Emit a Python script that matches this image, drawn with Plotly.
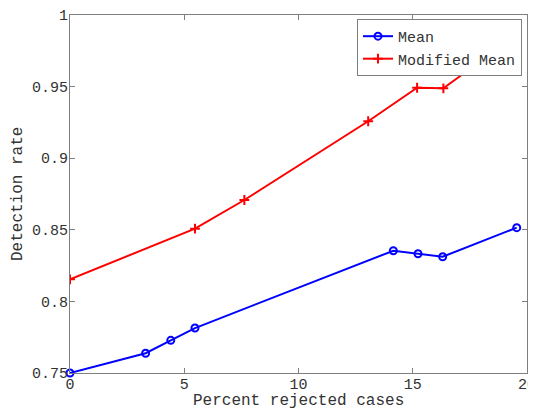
import plotly.graph_objects as go

mean_x = [0, 3.31, 4.41, 5.47, 14.15, 15.23, 16.31, 19.55]
mean_y = [0.750, 0.7638, 0.7728, 0.7814, 0.8354, 0.8333, 0.8312, 0.8515]

mod_x = [0, 5.47, 7.63, 13.05, 15.19, 16.34, 17.39, 19.55]
mod_y = [0.8154, 0.8508, 0.8708, 0.9258, 0.9492, 0.9488, 0.9611, 0.985]

x_ticks = [0, 5, 10, 15, 20]
y_ticks = [0.75, 0.8, 0.85, 0.9, 0.95, 1]
y_tick_labels = ["0.75", "0.8", "0.85", "0.9", "0.95", "1"]

font = "Liberation Mono"
txt = "#333333"

fig = go.Figure()
fig.add_trace(go.Scatter(
    x=mean_x, y=mean_y, mode="lines+markers", name="Mean",
    line=dict(color="#0000ff", width=2),
    marker=dict(symbol="circle-open", size=7, color="#0000ff", line=dict(width=2)),
    cliponaxis=False,
))
fig.add_trace(go.Scatter(
    x=mod_x, y=mod_y, mode="lines+markers", name="Modified Mean",
    line=dict(color="#ff0000", width=2),
    marker=dict(symbol="cross-thin-open", size=7, color="#ff0000", line=dict(width=2, color="#ff0000")),
))

axis_common = dict(
    showgrid=False, zeroline=False, showline=True, linecolor="#7f7f7f", linewidth=1,
    mirror="ticks", ticks="inside", ticklen=5, tickcolor="#7f7f7f", automargin=False,
    tickfont=dict(family=font, size=15, color=txt), ticklabeloverflow="allow",
)
fig.update_xaxes(range=[0, 20], tickvals=x_ticks, ticktext=[str(v) for v in x_ticks],
                 ticklabelstandoff=-3, **axis_common)
fig.update_yaxes(range=[0.75, 1], tickvals=y_ticks, ticktext=y_tick_labels,
                 ticklabelstandoff=-2, **axis_common)

fig.add_annotation(text="Percent rejected cases", xref="paper", yref="paper", x=0.5, y=0,
                   xanchor="center", yanchor="middle", yshift=-28, showarrow=False,
                   font=dict(family=font, size=16, color=txt))
fig.add_annotation(text="Detection rate", xref="paper", yref="paper", x=0, y=0.5,
                   xanchor="center", yanchor="middle", xshift=-52, textangle=-90, showarrow=False,
                   font=dict(family=font, size=16, color=txt))

fig.update_layout(
    width=536, height=402,
    margin=dict(l=62, r=17, t=7, b=37),
    paper_bgcolor="white", plot_bgcolor="white",
    showlegend=True,
    legend=dict(x=0.989, y=0.989, xanchor="right", yanchor="top",
                bgcolor="white", bordercolor="#7f7f7f", borderwidth=1,
                font=dict(family=font, size=15, color=txt),
                tracegroupgap=0),
)

fig.write_html("out.html")
